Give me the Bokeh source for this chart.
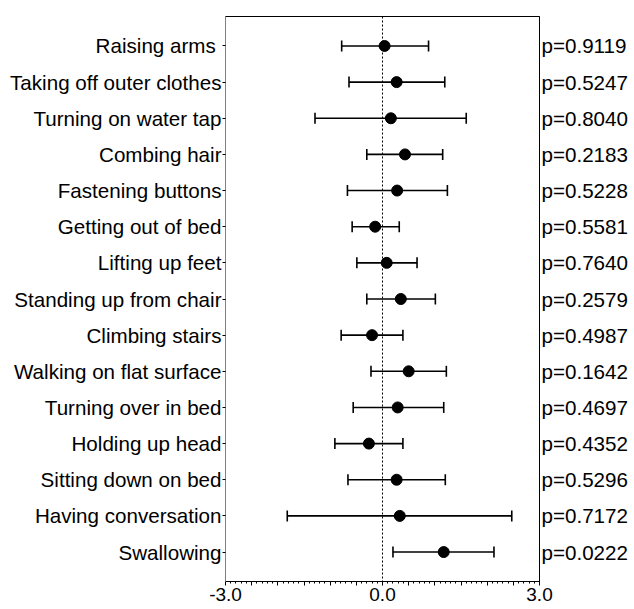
from bokeh.plotting import figure
from bokeh.models import (ColumnDataSource, Range1d, FixedTicker, LinearAxis,
                          Whisker, TeeHead, Span)
from bokeh.embed import file_html
from bokeh.resources import INLINE

categories = ["Raising  arms", "Taking off outer clothes", "Turning on water tap",
              "Combing hair", "Fastening buttons", "Getting out of bed",
              "Lifting up feet", "Standing up from chair", "Climbing stairs",
              "Walking on flat surface", "Turning over in bed", "Holding up head",
              "Sitting down on bed", "Having conversation", "Swallowing"]
estimate = [0.04, 0.27, 0.16, 0.43, 0.28, -0.14, 0.08, 0.35, -0.20, 0.50,
            0.29, -0.26, 0.27, 0.33, 1.17]
lower = [-0.78, -0.64, -1.29, -0.30, -0.67, -0.58, -0.49, -0.30, -0.79, -0.22,
         -0.56, -0.91, -0.66, -1.82, 0.20]
upper = [0.88, 1.19, 1.60, 1.15, 1.24, 0.32, 0.66, 1.01, 0.39, 1.22,
         1.17, 0.39, 1.20, 2.47, 2.13]
pvalues = ["p=0.9119", "p=0.5247", "p=0.8040", "p=0.2183", "p=0.5228",
           "p=0.5581", "p=0.7640", "p=0.2579", "p=0.4987", "p=0.1642",
           "p=0.4697", "p=0.4352", "p=0.5296", "p=0.7172", "p=0.0222"]
x_major = [-3.0, -2.5, -2.0, -1.5, -1.0, -0.5, 0.0, 0.5, 1.0, 1.5, 2.0, 2.5, 3.0]
x_labels = {-3.0: "-3.0", 0.0: "0.0", 3.0: "3.0"}

n = len(categories)
rows = list(range(n))
src = ColumnDataSource(dict(y=rows, est=estimate, lo=lower, hi=upper))

FONT = "Liberation Sans"
LABEL_SIZE = "20.6px"

p = figure(frame_width=314, frame_height=565, output_backend="svg",
           toolbar_location=None, x_range=Range1d(-3, 3),
           y_range=Range1d(n - 1 + 0.815, -0.815),
           min_border_left=225, min_border_top=16, min_border_right=10,
           min_border_bottom=10)
p.grid.visible = False
p.outline_line_color = "black"
p.outline_line_width = 1

# x axis
xa = p.xaxis[0]
xa.ticker = FixedTicker(ticks=x_major,
                        minor_ticks=[round(-3 + 0.1 * i, 1) for i in range(61)])
xa.major_label_overrides = {t: x_labels.get(t, "") for t in x_major}
xa.major_tick_out = 4
xa.major_tick_in = 0
xa.minor_tick_out = 2
xa.minor_tick_in = 0
xa.major_label_standoff = 2
xa.major_label_text_font = FONT
xa.major_label_text_font_size = "19px"
xa.major_label_text_color = "black"
xa.axis_line_color = "black"
xa.major_tick_line_color = "black"
xa.minor_tick_line_color = "black"

# left axis: categories
ya = p.yaxis[0]
ya.ticker = FixedTicker(ticks=rows, minor_ticks=[])
ya.major_label_overrides = {i: c for i, c in enumerate(categories)}
ya.major_tick_out = 3
ya.major_tick_in = 0
ya.minor_tick_out = 0
ya.major_label_standoff = 1
ya.major_label_text_font = FONT
ya.major_label_text_font_size = LABEL_SIZE
ya.major_label_text_color = "black"
ya.axis_line_color = "#808080"
ya.major_tick_line_color = "black"

# right axis: p values
ra = LinearAxis(ticker=FixedTicker(ticks=rows, minor_ticks=[]))
ra.major_label_overrides = {i: s for i, s in enumerate(pvalues)}
ra.major_tick_out = 0
ra.major_tick_in = 0
ra.minor_tick_out = 0
ra.minor_tick_in = 0
ra.major_label_standoff = 2
ra.major_label_text_font = FONT
ra.major_label_text_font_size = LABEL_SIZE
ra.major_label_text_color = "black"
ra.axis_line_color = "black"
p.add_layout(ra, "right")

# reference line at zero
p.add_layout(Span(location=0, dimension="height", line_color="black",
                  line_width=1, line_dash="2 2"))

# error bars
p.add_layout(Whisker(source=src, base="y", lower="lo", upper="hi",
                     dimension="width", line_color="black", line_width=1.6,
                     lower_head=TeeHead(size=11, line_color="black", line_width=1.6),
                     upper_head=TeeHead(size=11, line_color="black", line_width=1.6)))

p.scatter("est", "y", source=src, size=11, color="black", marker="circle")

open("out.html", "w").write(file_html(p, INLINE))
